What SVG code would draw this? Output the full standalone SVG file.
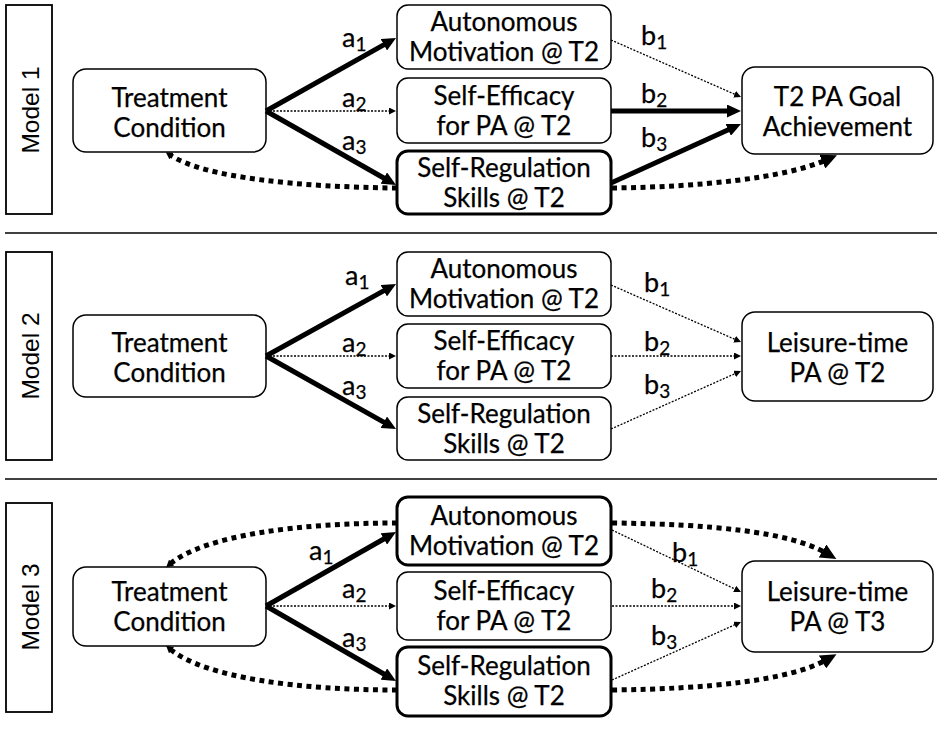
<svg xmlns="http://www.w3.org/2000/svg" width="938" height="731" viewBox="0 0 938 731">
<defs>
<marker id="big" markerUnits="userSpaceOnUse" markerWidth="14" markerHeight="13" refX="8" refY="6.5" orient="auto"><path d="M0,0 L14,6.5 L0,13 z" fill="#000"/></marker>
<marker id="sm" markerUnits="userSpaceOnUse" markerWidth="7" markerHeight="7" refX="5" refY="3.5" orient="auto"><path d="M0,0 L7,3.5 L0,7 z" fill="#000"/></marker>
<marker id="cbig" markerUnits="userSpaceOnUse" markerWidth="16" markerHeight="15" refX="4" refY="7.5" orient="auto"><path d="M0,0 L16,7.5 L0,15 z" fill="#000"/></marker>
<marker id="csm" markerUnits="userSpaceOnUse" markerWidth="7" markerHeight="8" refX="2" refY="4" orient="auto"><path d="M0,0 L7,4 L0,8 z" fill="#000"/></marker>
</defs>
<style>
.lbl{fill:#fff;stroke:#000;stroke-width:1.8}
.nd{fill:#fff;stroke:#000;stroke-width:1.5}
.nd.thk{stroke-width:3}
.t{font-family:Lato,"Open Sans",sans-serif;font-size:26px;fill:#000;text-anchor:middle;stroke:#000;stroke-width:0.25}
.m{font-family:"Liberation Sans",Arial,sans-serif;font-size:24.5px;fill:#000;text-anchor:middle}
.s{font-family:Lato,"Open Sans",sans-serif;font-size:27px;fill:#000;stroke:#000;stroke-width:0.25}
.sub{font-size:19px}
.thick{stroke:#000;stroke-width:5;fill:none;marker-end:url(#big)}
.thin{stroke:#000;stroke-width:1.3;stroke-dasharray:2,1.5;fill:none;marker-end:url(#sm)}
.cv{stroke:#000;stroke-width:5;stroke-dasharray:5,4.5;fill:none}
.sep{stroke:#000;stroke-width:1.5}
</style>

<g id="separators">
<line class="sep" x1="5" y1="233" x2="937" y2="233"/>
<line class="sep" x1="5" y1="479" x2="937" y2="479"/>
</g>

<!-- Model 1 -->
<g id="m1-label"><rect class="lbl" x="6" y="5" width="46" height="209"/><text class="m" transform="translate(38.5,110) rotate(-90)">Model 1</text></g>
<g id="m1-treat"><rect class="nd" x="73" y="69" width="193" height="83" rx="13"/><text class="t" x="169.5" y="107">Treatment<tspan x="169.5" dy="30">Condition</tspan></text></g>
<g id="m1-aut"><rect class="nd" x="397" y="5" width="214" height="64" rx="11"/><text class="t" x="504" y="31">Autonomous<tspan x="504" dy="30">Motivation @ T2</tspan></text></g>
<g id="m1-se"><rect class="nd" x="397" y="78" width="214" height="65" rx="11"/><text class="t" x="504" y="104.5">Self-Efficacy<tspan x="504" dy="30">for PA @ T2</tspan></text></g>
<g id="m1-sr"><rect class="nd thk" x="397" y="151" width="214" height="63" rx="11"/><text class="t" x="504" y="177">Self-Regulation<tspan x="504" dy="30">Skills @ T2</tspan></text></g>
<g id="m1-goal"><rect class="nd" x="742" y="67" width="191" height="87" rx="13"/><text class="t" x="837.5" y="106">T2 PA Goal<tspan x="837.5" dy="30">Achievement</tspan></text></g>

<g id="m1-connectors">
<path class="thick" d="M266,111 L390.8,40.9"/>
<path class="thin" d="M266,111 L394,111"/>
<path class="thick" d="M266,111 L390.8,182"/>
<path class="thin" d="M611,40 L739.2,96.2"/>
<path class="thick" d="M611,111 L735,111"/>
<path class="thick" d="M611,183 L735.5,126.5"/>
<path class="cv" marker-end="url(#csm)" d="M397,188 C300,187 205,178 170,155"/>
<path class="cv" marker-end="url(#cbig)" d="M612,188 C700,187 785,178 826,160"/>
<text class="s" x="342" y="47">a<tspan class="sub" dy="4">1</tspan></text>
<text class="s" x="342" y="107">a<tspan class="sub" dy="4">2</tspan></text>
<text class="s" x="342" y="150">a<tspan class="sub" dy="4">3</tspan></text>
<text class="s" x="641" y="45">b<tspan class="sub" dy="4">1</tspan></text>
<text class="s" x="641" y="103">b<tspan class="sub" dy="4">2</tspan></text>
<text class="s" x="641" y="147">b<tspan class="sub" dy="4">3</tspan></text>
</g>

<!-- Model 2 -->
<g id="m2-label"><rect class="lbl" x="6" y="252" width="46" height="208"/><text class="m" transform="translate(38.5,356) rotate(-90)">Model 2</text></g>
<g id="m2-treat"><rect class="nd" x="73" y="315" width="193" height="82" rx="13"/><text class="t" x="169.5" y="352">Treatment<tspan x="169.5" dy="30">Condition</tspan></text></g>
<g id="m2-aut"><rect class="nd" x="397" y="252" width="214" height="64" rx="11"/><text class="t" x="504" y="278">Autonomous<tspan x="504" dy="30">Motivation @ T2</tspan></text></g>
<g id="m2-se"><rect class="nd" x="397" y="324" width="214" height="64" rx="11"/><text class="t" x="504" y="350">Self-Efficacy<tspan x="504" dy="30">for PA @ T2</tspan></text></g>
<g id="m2-sr"><rect class="nd" x="397" y="397" width="214" height="63" rx="11"/><text class="t" x="504" y="423">Self-Regulation<tspan x="504" dy="30">Skills @ T2</tspan></text></g>
<g id="m2-lt"><rect class="nd" x="742" y="312" width="191" height="89" rx="13"/><text class="t" x="837.5" y="352">Leisure-time<tspan x="837.5" dy="30">PA @ T2</tspan></text></g>

<g id="m2-connectors">
<path class="thick" d="M266,356 L390.8,286.9"/>
<path class="thin" d="M266,356 L394,356"/>
<path class="thick" d="M266,356 L390.8,426.1"/>
<path class="thin" d="M611,285 L739.2,341.2"/>
<path class="thin" d="M611,356 L739,356"/>
<path class="thin" d="M611,429 L739.2,371.8"/>
<text class="s" x="345" y="285">a<tspan class="sub" dy="4">1</tspan></text>
<text class="s" x="342" y="352">a<tspan class="sub" dy="4">2</tspan></text>
<text class="s" x="342" y="395">a<tspan class="sub" dy="4">3</tspan></text>
<text class="s" x="644" y="292">b<tspan class="sub" dy="4">1</tspan></text>
<text class="s" x="644" y="351">b<tspan class="sub" dy="4">2</tspan></text>
<text class="s" x="644" y="394">b<tspan class="sub" dy="4">3</tspan></text>
</g>

<!-- Model 3 -->
<g id="m3-label"><rect class="lbl" x="6" y="503" width="46" height="209"/><text class="m" transform="translate(38.5,607) rotate(-90)">Model 3</text></g>
<g id="m3-treat"><rect class="nd" x="73" y="567" width="193" height="79" rx="13"/><text class="t" x="169.5" y="601">Treatment<tspan x="169.5" dy="30">Condition</tspan></text></g>
<g id="m3-aut"><rect class="nd thk" x="397" y="497" width="214" height="68" rx="11"/><text class="t" x="504" y="525">Autonomous<tspan x="504" dy="30">Motivation @ T2</tspan></text></g>
<g id="m3-se"><rect class="nd" x="397" y="572" width="214" height="68" rx="11"/><text class="t" x="504" y="600">Self-Efficacy<tspan x="504" dy="30">for PA @ T2</tspan></text></g>
<g id="m3-sr"><rect class="nd thk" x="397" y="647" width="214" height="69" rx="11"/><text class="t" x="504" y="675">Self-Regulation<tspan x="504" dy="30">Skills @ T2</tspan></text></g>
<g id="m3-lt"><rect class="nd" x="742" y="561" width="191" height="91" rx="13"/><text class="t" x="837.5" y="601">Leisure-time<tspan x="837.5" dy="30">PA @ T3</tspan></text></g>

<g id="m3-connectors">
<path class="thick" d="M266,606 L390.8,535"/>
<path class="thin" d="M266,606 L394,606"/>
<path class="thick" d="M266,606 L390.8,678"/>
<path class="thin" d="M612,530 L739.2,591.1"/>
<path class="thin" d="M612,606 L739,606"/>
<path class="thin" d="M612,680 L739.2,622.8"/>
<path class="cv" marker-end="url(#csm)" d="M397,523 C300,523 205,535 170,564"/>
<path class="cv" marker-end="url(#csm)" d="M397,690 C300,690 205,678 170,649"/>
<path class="cv" marker-end="url(#cbig)" d="M612,523 C710,524 790,532 826,553"/>
<path class="cv" marker-end="url(#cbig)" d="M612,690 C710,689 790,680 826,660"/>
<text class="s" x="309" y="560">a<tspan class="sub" dy="4">1</tspan></text>
<text class="s" x="342" y="598">a<tspan class="sub" dy="4">2</tspan></text>
<text class="s" x="342" y="647">a<tspan class="sub" dy="4">3</tspan></text>
<text class="s" x="672" y="562">b<tspan class="sub" dy="4">1</tspan></text>
<text class="s" x="651" y="598">b<tspan class="sub" dy="4">2</tspan></text>
<text class="s" x="651" y="645">b<tspan class="sub" dy="4">3</tspan></text>
</g>
</svg>
